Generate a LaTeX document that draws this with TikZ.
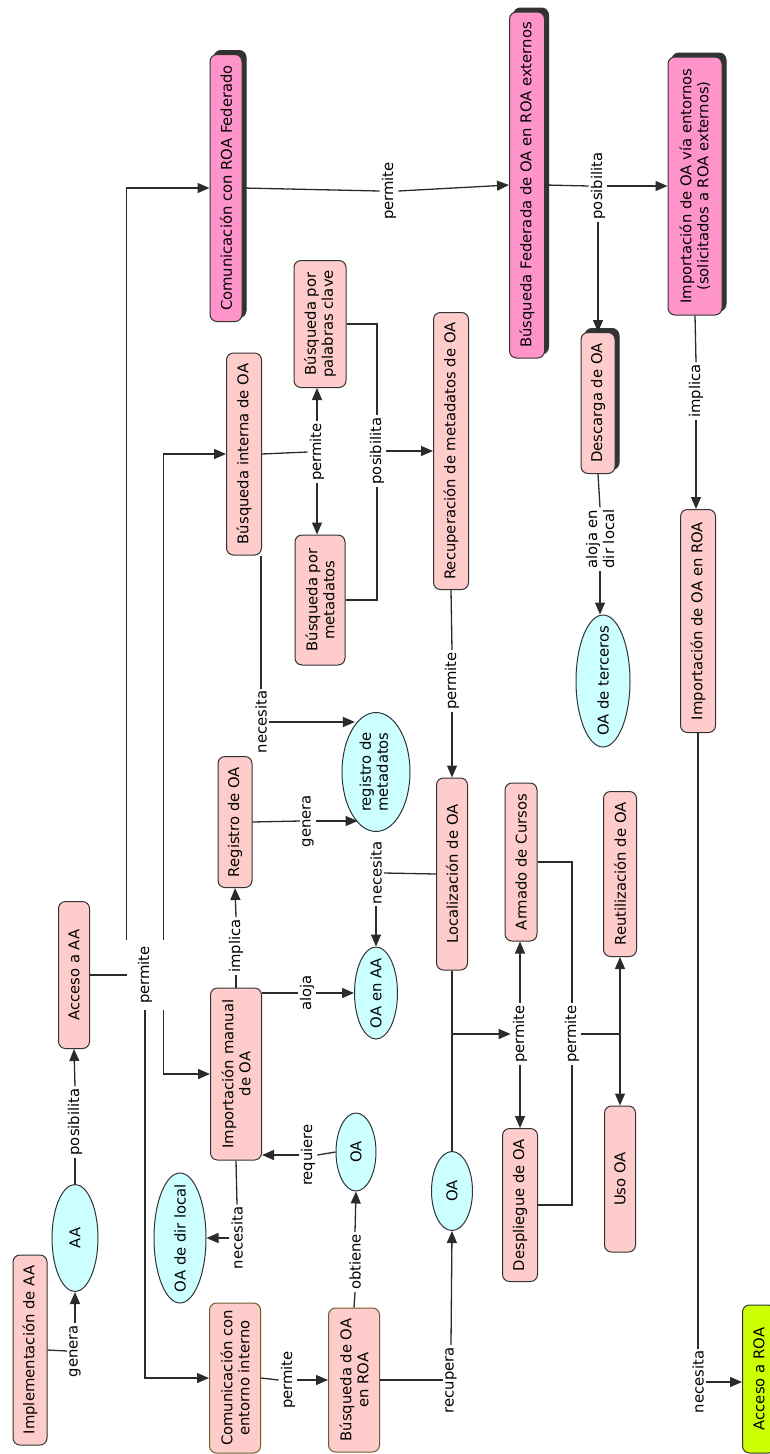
\documentclass[tikz,border=0pt]{standalone}
\usepackage{fontspec}
\setmainfont{DejaVu Sans}
\usetikzlibrary{arrows.meta,shapes.geometric,calc}
\definecolor{pinkc}{HTML}{FFCCCC}
\definecolor{cyanc}{HTML}{CCFFFF}
\definecolor{magc}{HTML}{FF94CB}
\definecolor{limec}{HTML}{CCFF00}
\definecolor{bordc}{HTML}{333333}
\definecolor{olivec}{HTML}{6E5E2C}
\definecolor{linec}{HTML}{2B2B2B}
\definecolor{shadc}{HTML}{333333}
\begin{document}
\begin{tikzpicture}[x=1pt,y=-1pt,
 txt/.style={font=\fontsize{14.8}{17}\selectfont},
 sz/.style 2 args={minimum width=#1pt,minimum height=#2pt},
 concept/.style={rotate=90, txt, inner sep=0pt, align=center, draw=bordc, line width=1pt, rounded corners=7pt, fill=pinkc},
 fed/.style={concept, fill=magc},
 shad/.style={rotate=90, inner sep=0pt, fill=shadc, draw=shadc, line width=1pt, rounded corners=7pt},
 oval/.style={rotate=90, txt, ellipse, inner sep=0pt, draw=bordc, line width=1pt, fill=cyanc},
 lnk/.style={rotate=90, txt, fill=white, inner sep=2pt, align=center},
 con/.style={draw=linec, line width=1.3pt},
 arr/.style={con, -{Triangle[length=12pt,width=10pt]}},
]
\fill[white] (0,0) rectangle (769,1454);
\useasboundingbox (0,0) rectangle (769,1454);

% concepts
\node[concept, sz={190}{34}] (impl) at (30,1350) {Implementación de AA};
\node[oval, sz={107}{46}] (aa) at (75,1238) {\makebox[0pt]{AA}};
\node[concept, sz={147}{31}] (acceso) at (74,975) {Acceso a AA};
\node[concept, draw=olivec, sz={150}{51}] (comint) at (235,1378) {Comunicación con\\entorno interno};
\node[oval, sz={130}{52}] (oadir) at (180,1238) {\makebox[0pt]{OA de dir local}};
\node[concept, sz={172}{51}] (impman) at (236,1074) {Importación manual\\de OA};
\node[concept, sz={131}{34}] (reg) at (235,822) {Registro de OA};
\node[concept, sz={202}{35}] (busqint) at (244,454) {Búsqueda interna de OA};
\node[shad, sz={267}{32}] (comfedsh) at (230,184) {};
\node[fed, sz={267}{32}] (comfed) at (226,188) {Comunicación con ROA Federado};
\node[concept, sz={127}{52}] (palabras) at (320,324) {Búsqueda por\\palabras clave};
\node[concept, sz={130}{50}] (metad) at (320,600) {Búsqueda por\\metadatos};
\node[concept, sz={277}{35}] (recup) at (451,451) {Recuperación de metadatos de OA};
\node[oval, sz={119}{68}] (regmeta) at (376,772) {\makebox[0pt]{\begin{tabular}{@{}c@{}}registro de\\metadatos\end{tabular}}};
\node[oval, sz={92}{43}] (oaaa) at (376,993) {\makebox[0pt]{OA en AA}};
\node[concept, sz={192}{31}] (loc) at (452,874) {Localización de OA};
\node[concept, sz={158}{32}] (armado) at (521,862) {Armado de Cursos};
\node[oval, sz={78}{40}] (oaup) at (356,1152) {\makebox[0pt]{OA}};
\node[concept, draw=olivec, sz={144}{51}] (bro) at (354,1380) {Búsqueda de OA\\en ROA};
\node[oval, sz={79}{41}] (oalow) at (452,1191) {\makebox[0pt]{OA}};
\node[concept, sz={153}{35}] (despl) at (520,1205) {Despliegue de OA};
\node[concept, sz={146}{31}] (uso) at (620,1179) {Uso OA};
\node[concept, sz={165}{33}] (reut) at (620,874) {Reutilización de OA};
\node[concept, fill=limec, sz={148}{33}] (accroa) at (759,1379) {Acceso a ROA};
\node[shad, sz={141}{34}] (descsh) at (602,399) {};
\node[concept, sz={141}{34}] (desc) at (598,403) {Descarga de OA};
\node[oval, sz={132}{54}] (oater) at (603,681) {\makebox[0pt]{OA de terceros}};
\node[concept, sz={223}{35}] (impr) at (698,621) {Importación de OA en ROA};
\node[shad, sz={346}{35}] (bfedsh) at (531,181) {};
\node[fed, sz={346}{35}] (bfed) at (527,185) {Búsqueda Federada de OA en ROA externos};
\node[shad, sz={258}{54}] (ivesh) at (699,182) {};
\node[fed, sz={258}{54}] (ive) at (695,186) {Importación de OA vía entornos\\(solicitados a ROA externos)};

% linking phrases
\node[lnk] (l1) at (75,1351) {genera};
\node[lnk] (l2) at (75,1122) {posibilita};
\node[lnk, minimum width=70pt, minimum height=36pt, inner sep=0pt] (l3) at (145,975) {permite};
\node[lnk] (l4) at (236,946) {implica};
\node[lnk] (l5) at (307,993) {aloja};
\node[lnk] (l6) at (237,1238) {necesita};
\node[lnk] (l7) at (308,1155) {requiere};
\node[lnk] (l8) at (355,1262) {obtiene};
\node[lnk] (l9) at (288,1380) {permite};
\node[lnk] (l10) at (451,1380) {recupera};
\node[lnk] (l11) at (376,873) {necesita};
\node[lnk] (l12) at (261,722) {necesita};
\node[lnk] (l13) at (308,821) {genera};
\node[lnk] (l14) at (317,452) {permite};
\node[lnk] (l15) at (377,451) {posibilita};
\node[lnk] (l16) at (452,681) {permite};
\node[lnk] (l17) at (520,1034) {permite};
\node[lnk] (l18) at (572,1034) {permite};
\node[lnk] (l19) at (389,191) {permite};
\node[lnk] (l20) at (598,186) {posibilita};
\node[lnk] (l21) at (600,539) {aloja en\\dir local};
\node[lnk] (l22) at (696,391) {implica};
\node[lnk] (l23) at (698,1382) {necesita};

% connectors
\draw[con] (impl.south) -- (l1.north);
\draw[arr] (l1.east) -- (aa.west);
\draw[con] (aa.east) -- (l2.west);
\draw[arr] (l2.east) -- (acceso.west);
\draw[con] (acceso.south) -- (l3.north);
\draw[arr] (l3.north east) |- (comfed.north);
\draw[arr] (l3.south east) |- (busqint.north);
\draw[arr] (l3.west) |- (comint.north);
\draw[arr] (l3.south west) |- (impman.north);
\draw[con] (impman.east) -- (l4.west);
\draw[arr] (l4.east) -- (reg.west);
\draw[con] (impman.south |- l5.north) -- (l5.north);
\draw[arr] (l5.south) -- (oaaa.north);
\draw[con] (impman.west) -- (l6.east);
\draw[arr] (l6.north) -- (oadir.south);
\draw[con] (oaup.north) -- (l7.south);
\draw[arr] (l7.north) -- (l7.north -| impman.south);
\draw[con] (bro.east) -- (l8.west);
\draw[arr] (l8.east) -- (oaup.west);
\draw[con] (comint.south) -- (l9.north);
\draw[arr] (l9.south) -- (l9.south -| bro.north);
\draw[con] (bro.south) -- (l10.north);
\draw[arr] (l10.east) -- (oalow.west);
\draw[con] (loc.north) -- (l11.south);
\draw[arr] (l11.west) -- (oaaa.east);
\draw[con] (l12.east |- busqint.west) -- (l12.east);
\draw[arr] (l12.south) -- (l12.south -| regmeta.24);
\draw[con] (reg.south) -- (l13.north);
\draw[arr] (l13.south) -- (l13.south -| regmeta.160);
\draw[con] (busqint.south) -- (l14.north);
\draw[arr] (l14.east) -- (l14.east |- palabras.west);
\draw[arr] (l14.west) -- (l14.west |- metad.east);
\draw[con] (palabras.south) -| (l15.east);
\draw[con] (metad.south) -| (l15.west);
\draw[arr] (l15.south) -- (recup.north);
\draw[con] (recup.west) -- (l16.east);
\draw[arr] (l16.west) -- (loc.east);
\draw[con] (loc.west) -- (oalow.east);
\draw[arr] (loc.west |- l17.north) -- (l17.north);
\draw[arr] (l17.east) -- (l17.east |- armado.west);
\draw[arr] (l17.west) -- (l17.west |- despl.east);
\draw[con] (armado.south) -| (l18.east);
\draw[con] (despl.south) -| (l18.west);
\coordinate (j18) at (reut.west |- l18.south);
\draw[con] (l18.south) -- (j18);
\draw[arr] (j18) -- (reut.west);
\draw[arr] (j18) -- (uso.east);
\draw[con] (comfed.south) -- (l19.north);
\draw[arr] (l19.south) -- (bfed.north);
\draw[con] (bfed.south) -- (l20.north);
\draw[arr] (l20.south) -- (ive.north);
\draw[arr] (l20.west) -- (l20.west |- desc.east);
\draw[con] (desc.west) -- (l21.east);
\draw[arr] (l21.west) -- (l21.west |- oater.east);
\draw[con] (ive.west) -- (l22.east);
\draw[arr] (l22.west) -- (l22.west |- impr.east);
\draw[con] (impr.west) -- (impr.west |- l23.east);
\draw[arr] (l23.south) -- (l23.south -| accroa.north);
\end{tikzpicture}
\end{document}
